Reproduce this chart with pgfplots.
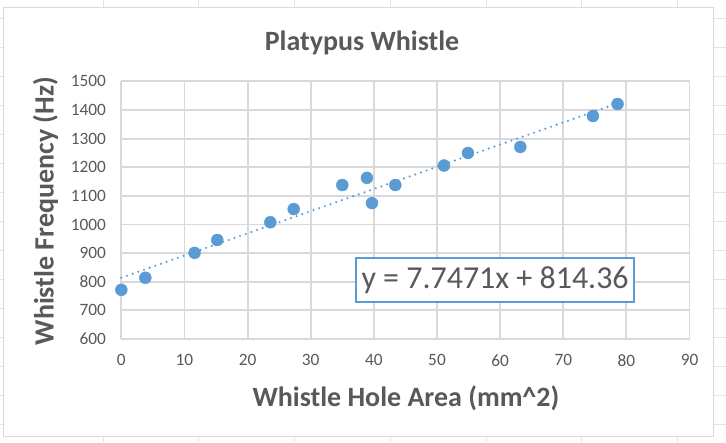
\documentclass[border=0pt]{standalone}
\usepackage{pgfplots}
\pgfplotsset{compat=1.18}
\usepackage{fontspec}
\setmainfont{Carlito}

\definecolor{ptblue}{HTML}{5B9BD5}
\definecolor{txtgrey}{HTML}{595959}
\definecolor{gridgrey}{HTML}{D9D9D9}
\definecolor{sheetgrey}{HTML}{E3E3E3}

% measured point positions (area mm^2, frequency Hz)
\pgfplotstableread{
x     y
0.0   772
3.8   814
11.6  901
15.2  946
23.6  1008
27.3  1054
35.0  1138
38.9  1163
39.7  1075
43.4  1138
51.1  1206
54.9  1250
63.2  1271
74.7  1379
78.6  1421
}\whistle

\begin{document}
\begin{tikzpicture}[x=0.75pt,y=0.75pt]
% page size 726 x 442 px, y measured from the bottom
\path (0,0) rectangle (726,442);
% spreadsheet cells behind the chart
\foreach \gx in {102.7,198.6,294.5,390.4,486.3,582.2,678.1}
  \draw[sheetgrey,line width=0.75pt] (\gx,0) -- (\gx,442);
\foreach \k in {0,...,14}
  \draw[sheetgrey,line width=0.75pt] (0,{442-18.3-29.05*\k}) -- (726,{442-18.3-29.05*\k});
% chart area
\draw[gridgrey,fill=white,line width=0.75pt] (3,5) rectangle (714,435);

\begin{axis}[
    at={(90.75pt,77.25pt)}, anchor=south west,
    scale only axis,
    width=426.75pt, height=193.5pt,
    xmin=0, xmax=90, ymin=600, ymax=1500,
    xtick distance=10, ytick distance=100,
    grid=major,
    major grid style={gridgrey,line width=1.4pt},
    axis line style={gridgrey,line width=1.4pt},
    axis x line*=bottom, axis y line*=left,
    major tick length=0pt,
    tick label style={font=\fontsize{13}{13}\selectfont,text=txtgrey},
    /pgf/number format/assume math mode=true,
    /pgf/number format/1000 sep={},
    xticklabel style={yshift=-8pt},
    yticklabel style={xshift=-8pt},
    clip=false,
]
% linear trendline y = 7.7471x + 814.36
\addplot[ptblue, line width=1.75pt, line cap=round,
         dash pattern=on 0pt off 4.5pt]
    coordinates {(0,814.36) (78.6,1423.28)};
\addplot[only marks, mark=*, mark size=4.5pt,
         mark options={fill=ptblue,draw=ptblue,line width=0.3pt}]
    table[x=x,y=y] {\whistle};
\node[draw=ptblue, line width=1.4pt, fill=white, text=txtgrey,
      minimum width=209pt, minimum height=33pt, inner sep=0pt,
      font=\fontsize{24}{24}\selectfont]
    at (axis cs:59.2,806) {y = 7.7471x + 814.36};
\end{axis}

\node[text=txtgrey, font=\bfseries\fontsize{21}{21}\selectfont] at (362,400) {Platypus Whistle};
\node[text=txtgrey, font=\bfseries\fontsize{21}{21}\selectfont] at (406,44) {Whistle Hole Area (mm\textasciicircum 2)};
\node[text=txtgrey, font=\bfseries\fontsize{21}{21}\selectfont, rotate=90] at (45,231) {Whistle Frequency (Hz)};
\end{tikzpicture}
\end{document}
